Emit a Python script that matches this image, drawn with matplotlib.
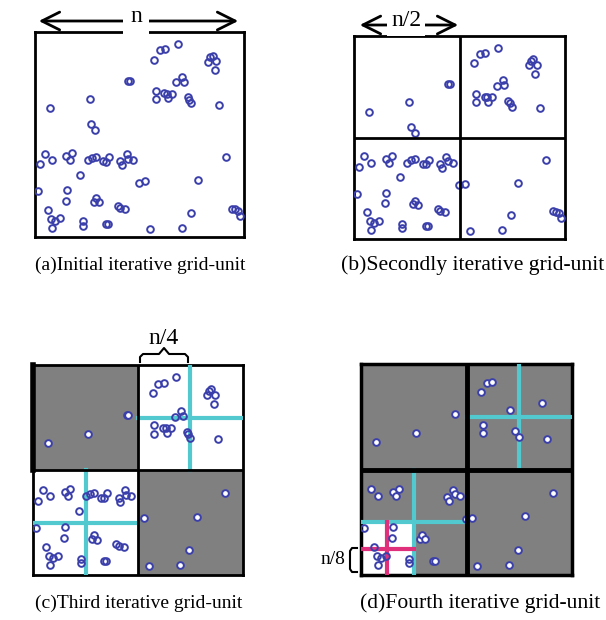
import numpy as np
import matplotlib
matplotlib.use("Agg")
import matplotlib.pyplot as plt

plt.rcParams["font.family"] = ["Liberation Serif", "DejaVu Serif"]

# ====================== 数据 ======================
# 点的位置（归一化坐标，左下为原点）
pts_x = [0.682, 0.597, 0.623, 0.570, 0.838, 0.850, 0.828, 0.868, 0.860, 0.447,
         0.454, 0.705, 0.677, 0.713, 0.578, 0.578, 0.619, 0.632, 0.656, 0.637,
         0.731, 0.739, 0.747, 0.881, 0.263, 0.070, 0.268, 0.288, 0.049, 0.081,
         0.025, 0.150, 0.178, 0.166, 0.253, 0.272, 0.290, 0.326, 0.339, 0.354,
         0.409, 0.438, 0.444, 0.468, 0.416, 0.912, 0.217, 0.498, 0.527, 0.779,
         0.016, 0.154, 0.148, 0.280, 0.291, 0.304, 0.396, 0.409, 0.432, 0.062,
         0.076, 0.119, 0.097, 0.081, 0.228, 0.228, 0.339, 0.350, 0.551, 0.701,
         0.745, 0.943, 0.959, 0.973, 0.979]
pts_y = [0.943, 0.911, 0.915, 0.865, 0.878, 0.885, 0.855, 0.859, 0.815, 0.763,
         0.763, 0.782, 0.754, 0.758, 0.712, 0.673, 0.701, 0.698, 0.698, 0.676,
         0.681, 0.670, 0.652, 0.646, 0.673, 0.628, 0.550, 0.524, 0.407, 0.376,
         0.354, 0.395, 0.408, 0.376, 0.376, 0.387, 0.392, 0.369, 0.367, 0.390,
         0.369, 0.405, 0.382, 0.376, 0.350, 0.389, 0.304, 0.265, 0.272, 0.278,
         0.224, 0.228, 0.176, 0.172, 0.189, 0.169, 0.150, 0.140, 0.135, 0.132,
         0.089, 0.091, 0.080, 0.046, 0.076, 0.055, 0.065, 0.065, 0.041, 0.046,
         0.117, 0.137, 0.135, 0.127, 0.102]

# 第三、第四次迭代中保留的点
drop_c = [26, 27, 47, 71, 72, 73, 74]
keep_d = [1, 2, 3, 8, 9, 11, 14, 15, 20, 22, 23, 24, 25, 28, 29, 31, 32, 33,
          40, 41, 42, 43, 44, 45, 47, 48, 49, 50, 51, 52, 53, 54, 55, 59, 60,
          61, 62, 63, 64, 65, 66, 67, 68, 69, 70]

captions = ["(a)Initial iterative grid-unit", "(b)Secondly iterative grid-unit",
            "(c)Third iterative grid-unit", "(d)Fourth iterative grid-unit"]

BLUE = "#3b3faa"
GREY = "#808080"
CYAN = "#52c8cf"
PINK = "#e0307c"

W, H = 606, 620
fig = plt.figure(figsize=(W / 100, H / 100), dpi=100)


def make_ax(x0, y0, x1, y1):
    ax = fig.add_axes([x0 / W, 1 - y1 / H, (x1 - x0) / W, (y1 - y0) / H])
    ax.set_xlim(0, 1)
    ax.set_ylim(0, 1)
    ax.set_xticks([])
    ax.set_yticks([])
    for s in ax.spines.values():
        s.set_linewidth(2)
        s.set_color("black")
    return ax


def draw_pts(ax, idx, grey_fn):
    for i in idx:
        x, y = pts_x[i], pts_y[i]
        fc = "white" if grey_fn(x, y) else "none"
        ax.plot(x, y, "o", ms=4.8, mew=1.4, mec=BLUE, mfc=fc, zorder=4)


all_idx = list(range(len(pts_x)))

# (a)
ax_a = make_ax(35, 32, 244, 237)
draw_pts(ax_a, all_idx, lambda x, y: False)

# (b)
ax_b = make_ax(354, 36, 565, 239)
draw_pts(ax_b, all_idx, lambda x, y: False)
ax_b.axvline(0.5, color="black", lw=2, zorder=5)
ax_b.axhline(0.5, color="black", lw=2, zorder=5)

# (c)
ax_c = make_ax(33, 365, 243, 575)
ax_c.fill_between([0, 0.5], 0.5, 1, color=GREY, zorder=1)
ax_c.fill_between([0.5, 1], 0, 0.5, color=GREY, zorder=1)
idx_c = [i for i in all_idx if i not in drop_c]
draw_pts(ax_c, idx_c, lambda x, y: (x < 0.5) == (y > 0.5))
for cx, cy in [(0.75, 0.75), (0.25, 0.25)]:
    ax_c.plot([cx, cx], [cy - 0.25, cy + 0.25], color=CYAN, lw=3, zorder=3)
    ax_c.plot([cx - 0.25, cx + 0.25], [cy, cy], color=CYAN, lw=3, zorder=3)
ax_c.axvline(0.5, color="black", lw=2, zorder=5)
ax_c.axhline(0.5, color="black", lw=2, zorder=5)
ax_c.plot([0, 0], [0.5, 1], color="black", lw=4, zorder=6, clip_on=False)

# (d)
ax_d = make_ax(361, 364, 572, 575)
ax_d.set_facecolor(GREY)
ax_d.fill_between([0, 0.25], 0, 0.25, color="white", zorder=1)
draw_pts(ax_d, keep_d, lambda x, y: not (x < 0.25 and y < 0.25))
for cx, cy in [(0.75, 0.75), (0.25, 0.25)]:
    ax_d.plot([cx, cx], [cy - 0.25, cy + 0.25], color=CYAN, lw=3, zorder=3)
    ax_d.plot([cx - 0.25, cx + 0.25], [cy, cy], color=CYAN, lw=3, zorder=3)
ax_d.plot([0.125, 0.125], [0, 0.25], color=PINK, lw=3, zorder=3)
ax_d.plot([0, 0.25], [0.125, 0.125], color=PINK, lw=3, zorder=3)
ax_d.axvline(0.5, color="black", lw=3.5, zorder=5)
ax_d.axhline(0.5, color="black", lw=3.5, zorder=5)
for s in ax_d.spines.values():
    s.set_linewidth(2.5)

# ====================== 标注 ======================
ov = fig.add_axes([0, 0, 1, 1], facecolor="none")
ov.set_xlim(0, W)
ov.set_ylim(H, 0)
ov.axis("off")

arw = dict(arrowstyle="<->", lw=2, color="black", mutation_scale=32)
ov.annotate("", xy=(36, 21), xytext=(241, 21), arrowprops=arw)
ov.text(136, 17, "n", fontsize=17, ha="center", va="center",
        bbox=dict(facecolor="white", edgecolor="none", pad=5))
ov.annotate("", xy=(357, 25), xytext=(461, 25), arrowprops=arw)
ov.text(406, 21, "n/2", fontsize=17, ha="center", va="center",
        bbox=dict(facecolor="white", edgecolor="none", pad=3))

# n/4 大括号
bx = [140, 140, 143, 159, 164, 169, 185, 188, 188]
by = [362, 357, 354, 354, 348, 354, 354, 357, 362]
ov.plot(bx, by, color="black", lw=1.5)
ov.text(164, 338, "n/4", fontsize=17, ha="center", va="center")

# n/8 方括号
ov.plot([357, 352, 350, 350, 352, 357], [548, 548, 551, 569, 572, 572],
        color="black", lw=1.5)
ov.text(345, 560, "n/8", fontsize=14, ha="right", va="center")

cap_pos = [(140, 265), (473, 265), (139, 603), (480, 603)]
cap_size = [14, 15.6, 14, 15.6]
for (x, y), t, fs in zip(cap_pos, captions, cap_size):
    ov.text(x, y, t, fontsize=fs, ha="center", va="center")

fig.savefig("out.png", dpi=100)
